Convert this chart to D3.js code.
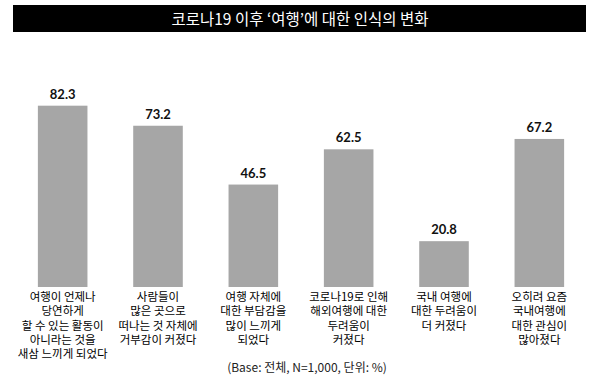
<!DOCTYPE html>
<html>
<head>
<meta charset="utf-8">
<script src="https://cdn.jsdelivr.net/npm/d3@7"></script>
<style>
  body { margin: 0; background: #fff; }
  svg { display: block; }
</style>
</head>
<body>
<svg id="chart" width="600" height="384"></svg>
<script>
// data
const titleText = "코로나19 이후 ‘여행’에 대한 인식의 변화"
const noteText = "(Base: 전체, N=1,000, 단위: %)"

const categories = [
    ["여행이 언제나", "당연하게", "할 수 있는 활동이", "아니라는 것을", "새삼 느끼게 되었다"],
    ["사람들이", "많은 곳으로", "떠나는 것 자체에", "거부감이 커졌다"],
    ["여행 자체에", "대한 부담감을", "많이 느끼게", "되었다"],
    ["코로나19로 인해", "해외여행에 대한", "두려움이", "커졌다"],
    ["국내 여행에", "대한 두려움이", "더 커졌다"],
    ["오히려 요즘", "국내여행에", "대한 관심이", "많아졌다"]
]
const values = [82.3, 73.2, 46.5, 62.5, 20.8, 67.2]

const svg = d3.select('#chart')
const kr = "'Noto Sans CJK KR', 'Noto Sans', sans-serif"

// title bar
svg.append('rect')
    .attr('x', 13).attr('y', 5)
    .attr('width', 573).attr('height', 27)
    .attr('fill', '#000')

svg.append('text')
    .attr('x', 300).attr('y', 24.5)
    .attr('text-anchor', 'middle')
    .attr('fill', '#fff')
    .attr('font-family', kr)
    .attr('font-size', 15.5)
    .text(titleText)

let x = d3.scaleBand()
    .domain(d3.range(values.length))
    .range([15, 587])
    .paddingInner(0.48)
    .paddingOuter(0.24)

let y = d3.scaleLinear().domain([0, 100]).range([287, 66.7])

let g = svg.append('g').attr('class', 'bars')

g.selectAll('rect')
    .data(values)
    .join('rect')
    .attr('x', (d, i) => x(i))
    .attr('y', (d) => y(d))
    .attr('width', x.bandwidth())
    .attr('height', (d) => y(0) - y(d))
    .attr('fill', '#a6a6a6')

g.selectAll('text.value')
    .data(values)
    .join('text')
    .attr('class', 'value')
    .attr('x', (d, i) => x(i) + x.bandwidth() / 2)
    .attr('y', (d) => y(d) - 7)
    .attr('text-anchor', 'middle')
    .attr('font-family', "Lato, 'Open Sans', sans-serif")
    .attr('font-weight', 'bold')
    .attr('font-size', 13)
    .attr('fill', '#111')
    .text((d) => d3.format('.1f')(d))

// category labels, one text per line
let lines = []
categories.forEach((c, i) => c.forEach((t, j) => lines.push({ i: i, j: j, t: t })))

svg.append('g').attr('class', 'labels')
    .selectAll('text')
    .data(lines)
    .join('text')
    .attr('x', (d) => x(d.i) + x.bandwidth() / 2)
    .attr('y', (d) => 301 + d.j * 14.3)
    .attr('text-anchor', 'middle')
    .attr('font-family', kr)
    .attr('font-size', 11.5)
    .attr('fill', '#000')
    .text((d) => d.t)

svg.append('text')
    .attr('x', 307).attr('y', 372)
    .attr('text-anchor', 'middle')
    .attr('font-family', kr)
    .attr('font-size', 12)
    .attr('fill', '#222')
    .text(noteText)
</script>
</body>
</html>
